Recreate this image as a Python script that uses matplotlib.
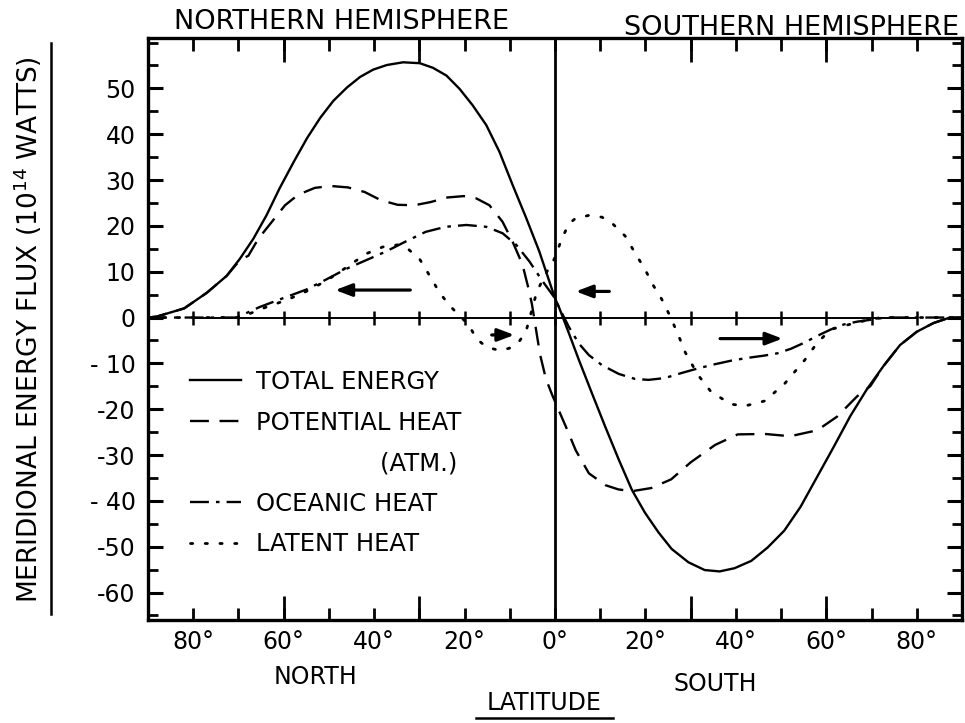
import matplotlib
matplotlib.use("Agg")
import matplotlib.pyplot as plt
from matplotlib.lines import Line2D

plt.rcParams['font.family'] = ['DejaVu Sans']

# ---------------- data (latitude: + = North, - = South; flux in 1e14 W) ----------------
total_lat = [90, 88.1, 82.0, 77.0, 72.6, 69.7, 66.7, 63.8, 60.9, 57.7, 54.8, 51.9, 49.0, 46.0,
             43.1, 40.2, 37.2, 33.6, 29.9, 27.0, 24.0, 21.1, 18.2, 15.2, 12.3, 9.4, 6.4, 3.5, 0.0,
             -0.9, -3.1, -5.3, -8.2, -11.1, -14.1, -17.0, -19.9, -22.9, -25.8, -29.5, -33.1,
             -36.4, -39.7, -43.4, -47.0, -50.7, -54.3, -58.0, -61.7, -65.3, -69.0, -72.7, -76.3,
             -80.0, -83.7, -87.3, -90]
total_val = [0, 0.2, 2.0, 5.4, 9.1, 12.8, 17.2, 22.3, 28.2, 34.1, 39.2, 43.6, 47.3, 50.2,
             52.5, 54.1, 55.1, 55.7, 55.5, 54.5, 52.8, 49.9, 46.3, 42.0, 36.2, 29.0, 21.8, 14.5, 4.2,
             2.2, -3.5, -9.3, -16.6, -23.8, -31.0, -37.6, -42.6, -46.9, -50.5, -53.4, -55.1,
             -55.4, -54.7, -53.1, -50.2, -46.5, -41.3, -34.7, -28.1, -21.5, -15.6, -10.5, -6.0,
             -3.1, -1.2, 0.0, 0]

potential_lat = [90, 88.1, 82.0, 77.0, 72.6, 69.7, 67.8, 65.6, 62.6, 59.7, 56.8, 53.1, 49.5, 45.8,
                 42.1, 38.5, 34.8, 31.1, 27.5, 23.8, 20.2, 17.4, 14.5, 11.6, 9.4, 7.2, 5.7, 5.1,
                 4.2, 3.3, 2.0, 0.7, -0.9, -2.4, -4.6, -7.5, -11.2, -14.0, -17.0, -21.3, -25.7,
                 -30.0, -35.4, -40.4, -46.4, -52.0, -58.0, -62.4, -66.8, -69.7, -72.7, -76.3,
                 -80.0, -83.7, -87.3, -90]
potential_val = [0, 0.2, 2.0, 5.4, 9.1, 12.5, 13.5, 17.2, 20.9, 24.5, 26.8, 28.3, 28.7, 28.4,
                 27.4, 25.6, 24.6, 24.5, 25.2, 26.2, 26.5, 26.0, 24.5, 20.9, 16.6, 11.6, 5.7, 2.9,
                 -2.6, -8.1, -13.4, -16.7, -20.4, -23.8, -29.0, -34.0, -36.6, -37.5, -37.9, -37.2,
                 -35.3, -31.6, -27.8, -25.5, -25.4, -25.9, -24.6, -21.6, -17.2, -15.0, -10.5, -6.0,
                 -3.1, -1.2, 0.0, 0]

oceanic_lat = [90, 80, 70.4, 65.3, 60.2, 55.0, 50.6, 46.2, 41.8, 37.4, 33.0, 28.6, 24.2, 19.6,
               15.2, 11.6, 8.6, 5.7, 2.8, 0.0, -0.9, -3.1, -5.3, -7.5, -10.4, -14.1, -17.7, -20.7,
               -24.3, -28.0, -31.6, -35.3, -39.0, -42.6, -46.3, -49.2, -52.2, -55.1, -58.0, -61.0,
               -63.9, -66.8, -69.7, -73, -80, -90]
oceanic_val = [0, 0, 0.0, 2.3, 4.2, 6.1, 8.3, 10.6, 12.5, 14.4, 16.6, 18.7, 19.8, 20.2,
               19.8, 18.4, 15.9, 12.3, 8.0, 4.2, 2.2, -2.1, -5.7, -8.2, -10.4, -12.3, -13.4, -13.6,
               -13.2, -12.1, -11.1, -10.2, -9.4, -8.8, -8.3, -7.8, -6.8, -5.5, -4.0, -2.6,
               -1.5, -0.9, -0.5, 0, 0, 0]

latent_lat = [90, 80, 69.7, 63.8, 59.4, 55.0, 50.6, 46.2, 41.8, 38.1, 34.5, 32.3, 29.9, 27.7,
              25.5, 23.3, 21.1, 19.0, 17.4, 15.2, 12.3, 10.1, 7.9, 6.4, 4.0, 1.8, 0.2, -1.6, -3.1,
              -4.5, -7.5, -10.4, -12.6, -15.5, -17.7, -19.9, -21.8, -23.6, -25.4, -27.3, -28.8,
              -31.6, -34.5, -38.9, -42.0, -46.4, -50.8, -55.2, -58.0, -61.0, -67.0, -72, -80, -90]
latent_val = [0, 0, 0.0, 2.3, 3.8, 5.7, 8.0, 10.9, 13.9, 15.4, 15.9, 14.8, 12.7, 9.1,
              5.4, 2.6, 0.4, -1.7, -4.6, -6.4, -7.2, -6.7, -5.2, -3.0, 5.7, 10.0, 12.7, 17.4, 20.5,
              21.6, 22.3, 21.9, 20.6, 17.8, 14.1, 10.5, 6.9, 4.0, 0.4, -3.9, -7.6,
              -12.5, -16.2, -18.9, -19.3, -18.2, -14.4, -9.3, -5.5, -2.6, -1.0, 0, 0, 0]

zero_marks = [80, 70, 60, 50, 40, 30, 20, 10, 0, -10, -20, -30, -40, -50, -60, -70, -80]

y_major = [-60, -50, -40, -30, -20, -10, 0, 10, 20, 30, 40, 50]
y_labels = ['-60', '-50', '- 40', '-30', '-20', '- 10', '0', '10', '20', '30', '40', '50']
y_minor = [-65, -55, -45, -35, -25, -15, -5, 5, 15, 25, 35, 45, 55, 60]

x_major = [80, 70, 60, 50, 40, 30, 20, 10, 0, -10, -20, -30, -40, -50, -60, -70, -80]
x_labels = ['80°', '', '60°', '', '40°', '', '20°', '', '0°', '', '20°', '', '40°', '', '60°', '', '80°']
x_long = [60, 30, -30, -60]

legend_names = ['TOTAL ENERGY', 'POTENTIAL HEAT', '(ATM.)', 'OCEANIC HEAT', 'LATENT HEAT']

# arrows: (tail_lat, tail_val, head_lat, head_val)
arrows = [(32.0, 6.0, 48.6, 6.0), (14.0, -3.8, 9.0, -3.8),
          (-12.0, 5.7, -4.6, 5.7), (-36.5, -4.6, -50.3, -4.6)]

# ---------------- figure ----------------
W, H = 965, 723
fig = plt.figure(figsize=(W / 100, H / 100), dpi=100)
ax = fig.add_axes([148 / W, 1 - 620 / H, (962 - 148) / W, (620 - 38) / H])
ax.set_xlim(90, -90)
ax.set_ylim(-66, 61)

lw = 1.7
l_tot, = ax.plot(total_lat, total_val, color='black', lw=lw, ls='-', solid_joinstyle='round')
l_pot, = ax.plot(potential_lat, potential_val, color='black', lw=lw, ls=(0, (8, 4.5)))
l_oce, = ax.plot(oceanic_lat, oceanic_val, color='black', lw=lw, ls=(0, (8, 3, 1.5, 3)))
l_lat, = ax.plot(latent_lat, latent_val, color='black', lw=2.0, ls=(0, (0.8, 4.5)),
                 dash_capstyle='round')

# zero line with latitude marks
ax.plot(zero_marks, [0] * len(zero_marks), color='black', lw=1.4, marker='|',
        markersize=10, markeredgewidth=1.8)
ax.axvline(0, color='black', lw=2.0)

for t_lat, t_val, h_lat, h_val in arrows:
    ax.annotate('', xy=(h_lat, h_val), xytext=(t_lat, t_val),
                arrowprops=dict(arrowstyle='-|>,head_length=1.0,head_width=0.38',
                                color='black', lw=2.3, shrinkA=0, shrinkB=0))

# spines
for s in ax.spines.values():
    s.set_linewidth(2.4)

# ticks
ax.set_yticks(y_major)
ax.set_yticklabels(y_labels)
ax.set_yticks(y_minor, minor=True)
ax.set_xticks(x_major)
ax.set_xticklabels(x_labels)
ax.set_xticks(x_long, minor=True)
ax.xaxis.remove_overlapping_locs = False
ax.tick_params(axis='y', which='major', direction='in', length=11, width=2.2,
               left=True, right=True, labelsize=17, pad=9)
ax.tick_params(axis='y', which='minor', direction='in', length=7, width=2.0,
               left=True, right=True)
ax.tick_params(axis='x', which='major', direction='in', length=9, width=2.0,
               top=True, bottom=True, labelsize=17, pad=7)
ax.tick_params(axis='x', which='minor', direction='in', length=17, width=2.0,
               top=True, bottom=True)

# legend
blank = Line2D([], [], color='none')
leg = ax.legend([l_tot, l_pot, blank, l_oce, l_lat],
                [legend_names[0], legend_names[1], ' ' * 16 + legend_names[2],
                 legend_names[3], legend_names[4]],
                loc='upper left', bbox_to_anchor=((190 - 148) / 814, (620 - 370) / 582),
                frameon=False, fontsize=17.5, handlelength=2.1, handletextpad=0.6,
                labelspacing=0.68, borderpad=0, borderaxespad=0)

# texts
fig.text(342 / W, 1 - 22 / H, 'NORTHERN HEMISPHERE', fontsize=19.5, ha='center', va='center')
fig.text(792 / W, 1 - 28 / H, 'SOUTHERN HEMISPHERE', fontsize=19.5, ha='center', va='center')
fig.text(316 / W, 1 - 677 / H, 'NORTH', fontsize=17, ha='center', va='center')
fig.text(715 / W, 1 - 684 / H, 'SOUTH', fontsize=17, ha='center', va='center')
fig.text(544 / W, 1 - 703 / H, 'LATITUDE', fontsize=17, ha='center', va='center')
fig.add_artist(Line2D([476 / W, 613 / W], [1 - 718 / H, 1 - 718 / H],
                      color='black', lw=1.8, transform=fig.transFigure))
fig.text(28 / W, 1 - 330 / H, 'MERIDIONAL ENERGY FLUX (10$^{14}$ WATTS)', fontsize=19,
         rotation=90, ha='center', va='center')
fig.add_artist(Line2D([51 / W, 51 / W], [1 - 614 / H, 1 - 43 / H],
                      color='black', lw=1.8, transform=fig.transFigure))

fig.savefig('out.png', dpi=100)
